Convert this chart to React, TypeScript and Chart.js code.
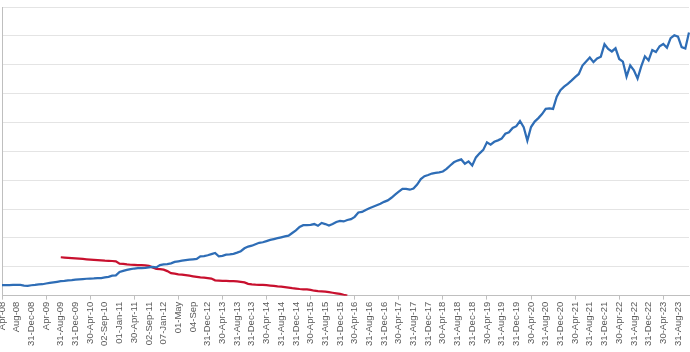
import React, { useEffect, useRef } from "react";
import { Chart, registerables } from "chart.js";

Chart.register(...registerables);

// Tick labels shown every 4th monthly category (Apr-08 .. Aug-23)
const tickLabels = [
  "Apr-08", "Aug-08", "31-Dec-08", "Apr-09", "31-Aug-09", "31-Dec-09", "30-Apr-10", "02-Sep-10",
  "01-Jan-11", "30-Apr-11", "02-Sep-11", "07-Jan-12", "01-May", "04-Sep", "31-Dec-12", "30-Apr-13",
  "31-Aug-13", "31-Dec-13", "30-Apr-14", "31-Aug-14", "31-Dec-14", "30-Apr-15", "31-Aug-15", "31-Dec-15",
  "30-Apr-16", "31-Aug-16", "31-Dec-16", "30-Apr-17", "31-Aug-17", "31-Dec-17", "30-Apr-18", "31-Aug-18",
  "31-Dec-18", "30-Apr-19", "31-Aug-19", "31-Dec-19", "30-Apr-20", "31-Aug-20", "31-Dec-20", "30-Apr-21",
  "31-Aug-21", "31-Dec-21", "30-Apr-22", "31-Aug-22", "31-Dec-22", "30-Apr-23", "31-Aug-23",
];

// Blue series, monthly values
const blueValues = [
  3.6, 3.6, 3.6, 3.7, 3.7, 3.7, 3.5, 3.4, 3.6, 3.7,
  3.9, 3.95, 4.2, 4.4, 4.6, 4.8, 5.0, 5.1, 5.3, 5.4,
  5.55, 5.65, 5.75, 5.85, 5.9, 5.95, 6.05, 6.1, 6.3, 6.5,
  6.9, 7.0, 8.2, 8.6, 8.9, 9.2, 9.4, 9.5, 9.5, 9.6,
  9.8, 10.0, 9.8, 10.6, 10.8, 10.9, 11.2, 11.7, 11.9, 12.1,
  12.3, 12.5, 12.6, 12.7, 13.6, 13.7, 14.0, 14.4, 14.8, 13.6,
  13.8, 14.2, 14.3, 14.5, 14.9, 15.4, 16.4, 17.0, 17.3, 17.8,
  18.3, 18.5, 18.9, 19.3, 19.6, 19.9, 20.2, 20.5, 20.8, 21.7,
  22.6, 23.8, 24.4, 24.4, 24.5, 24.8, 24.2, 25.2, 24.8, 24.3,
  24.8, 25.5, 25.9, 25.7, 26.2, 26.5, 27.3, 28.8, 29.0, 29.7,
  30.3, 30.8, 31.3, 31.8, 32.5, 33.0, 33.9, 35.0, 36.0, 37.0,
  37.0, 36.7, 37.1, 38.5, 40.4, 41.4, 41.8, 42.3, 42.5, 42.7,
  43.0, 43.9, 45.1, 46.2, 46.8, 47.2, 45.7, 46.5, 45.1, 47.9,
  49.3, 50.5, 53.1, 52.3, 53.3, 53.8, 54.4, 56.1, 56.6, 58.1,
  58.7, 60.5, 58.4, 53.7, 58.4, 60.3, 61.5, 62.9, 64.7, 64.9,
  64.7, 68.9, 71.2, 72.4, 73.4, 74.5, 75.7, 76.8, 79.7, 81.1,
  82.5, 80.9, 82.2, 82.8, 87.1, 85.5, 84.6, 85.7, 82.0, 81.1,
  75.9, 79.8, 78.1, 75.2, 79.4, 82.9, 81.5, 85.1, 84.4, 86.4,
  87.2, 85.9, 89.2, 90.2, 89.7, 86.1, 85.6, 91.2,
];

// Red series, monthly values starting at Aug-09 (month index 16)
const redStartIndex = 16;
const redValues = [
  13.3, 13.2, 13.1, 13.0, 12.9, 12.8, 12.7, 12.6, 12.5, 12.4,
  12.3, 12.2, 12.1, 12.05, 12.0, 11.9, 11.1, 11.0, 10.8, 10.7,
  10.65, 10.6, 10.55, 10.5, 10.3, 9.8, 9.3, 9.2, 9.0, 8.5,
  7.8, 7.6, 7.4, 7.3, 7.1, 6.9, 6.7, 6.5, 6.3, 6.2,
  6.1, 5.9, 5.3, 5.2, 5.1, 5.1, 5.0, 5.0, 4.9, 4.8,
  4.6, 4.1, 3.9, 3.8, 3.75, 3.7, 3.6, 3.5, 3.4, 3.2,
  3.1, 2.95, 2.8, 2.6, 2.45, 2.3, 2.2, 2.15, 2.0, 1.7,
  1.55, 1.5, 1.4, 1.2, 1.0, 0.8, 0.6, 0.3, 0.05,
];

const yMin = 0;
const yMax = 100;
const yStep = 10;

export default function App() {
  const ref = useRef<HTMLCanvasElement | null>(null);

  useEffect(() => {
    if (!ref.current) return;
    const categories: string[] = [];
    tickLabels.forEach((l) => categories.push(l, "", "", ""));
    const n = blueValues.length;
    while (categories.length < n) categories.push("");
    const redData: (number | null)[] = [];
    for (let i = 0; i < n; i++) {
      const j = i - redStartIndex;
      redData.push(j >= 0 && j < redValues.length ? redValues[j] : null);
    }

    const chart = new Chart(ref.current, {
      type: "line",
      data: {
        labels: categories,
        datasets: [
          {
            data: blueValues,
            borderColor: "#2E6DB6",
            borderWidth: 2.25,
            pointRadius: 0,
            tension: 0,
            fill: false,
          },
          {
            data: redData,
            borderColor: "#C8102E",
            borderWidth: 2.25,
            pointRadius: 0,
            tension: 0,
            fill: false,
            spanGaps: false,
          },
        ],
      },
      options: {
        animation: false,
        responsive: false,
        maintainAspectRatio: false,
        layout: { padding: { left: 2, right: 1, top: 7, bottom: 4 } },
        plugins: { legend: { display: false }, tooltip: { enabled: false } },
        scales: {
          x: {
            type: "category",
            offset: false,
            afterFit: (s: any) => {
              s.paddingLeft = 0;
              s.paddingRight = 0;
            },
            grid: {
              display: true,
              drawOnChartArea: false,
              drawTicks: true,
              tickLength: 4,
              tickColor: (ctx: any) => (ctx.index % 12 === 0 ? "#BFBFBF" : "rgba(0,0,0,0)"),
              color: "rgba(0,0,0,0)",
            },
            border: { display: true, color: "#BFBFBF", width: 1 },
            ticks: {
              autoSkip: false,
              maxRotation: 90,
              minRotation: 90,
              padding: 2,
              color: "#595959",
              font: { family: "'Liberation Sans', Arial, sans-serif", size: 9.5 },
              callback: (_v: any, i: number) => categories[i],
            },
          },
          y: {
            min: yMin,
            max: yMax,
            ticks: { display: false, stepSize: yStep },
            grid: { color: "#E4E4E4", drawTicks: false },
            border: { display: true, color: "#BFBFBF" },
          },
        },
      },
    });
    return () => chart.destroy();
  }, []);

  return (
    <div style={{ position: "fixed", left: 0, top: 0, width: 690, height: 352, background: "#fff" }}>
      <canvas ref={ref} width={690} height={352} style={{ width: 690, height: 352 }} />
    </div>
  );
}
